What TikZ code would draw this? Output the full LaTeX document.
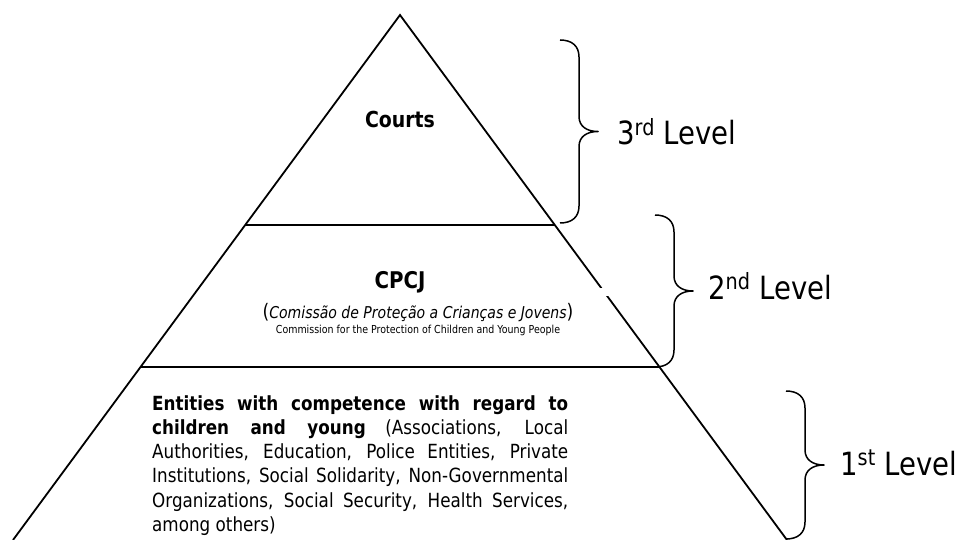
\documentclass[tikz,border=0pt]{standalone}
\usepackage{fontspec}
\setmainfont{DejaVu Sans}[FakeStretch=0.86]
\usetikzlibrary{calc}
\tolerance=10000

% curly brace: x of the ends, top y, bottom y
\newcommand{\lvlbrace}[3]{%
  \pgfmathsetmacro{\ym}{(#2+#3)/2}
  \draw[brc] (#1,#2) .. controls (#1+12,#2) and (#1+19,#2+6) .. (#1+19,#2+17)
    -- (#1+19,\ym-15) .. controls (#1+19,\ym-5) and (#1+27,\ym) .. (#1+38,\ym)
    .. controls (#1+27,\ym) and (#1+19,\ym+5) .. (#1+19,\ym+15)
    -- (#1+19,#3-17) .. controls (#1+19,#3-6) and (#1+12,#3) .. (#1,#3);}

\begin{document}
\begin{tikzpicture}[x=1pt, y=-1pt,
    edge/.style={line width=1.8pt},
    brc/.style={line width=1.5pt, line join=round},
    lvl/.style={anchor=base west, inner sep=0pt, font=\fontsize{32}{38}\selectfont}]
  \useasboundingbox (0,0) rectangle (961,540);

  % Pyramid
  \coordinate (T) at (400,15);
  \coordinate (L) at (13,540);
  \coordinate (R) at (787,540);
  \coordinate (A1) at ($(T)!0.4!(L)$);
  \coordinate (A2) at ($(T)!0.4!(R)$);
  \coordinate (B1) at ($(T)!0.6705!(L)$);
  \coordinate (B2) at ($(T)!0.6705!(R)$);
  \draw[edge] (L) -- (T) -- (R);
  \draw[edge] (A1) -- (A2);
  \draw[edge] (B1) -- (B2);
  \fill[white] (596,288) rectangle (610,296);

  % Tiers
  \node[anchor=base, inner sep=0pt, font=\fontsize{22}{26}\selectfont\bfseries] (C) at (400,128) {Courts};
  \node[anchor=base, inner sep=0pt, font=\fontsize{23}{27}\selectfont\bfseries] (P) at (400,288) {CPCJ};
  \node[anchor=base, inner sep=0pt, font=\fontsize{16.3}{19}\selectfont] (PT) at (418,318)
    {{\fontsize{20}{24}\selectfont(}\textit{Comissão de Proteção a Crianças e Jovens}{\fontsize{20}{24}\selectfont)}};
  \node[anchor=base, inner sep=0pt, font=\fontsize{11}{13}\selectfont] (EN) at (418,333)
    {Commission for the Protection of Children and Young People};
  \node[anchor=north west, inner sep=0pt, text width=416pt, align=justify,
        font=\fontsize{19.5}{24.3}\selectfont] (E) at (152,395)
    {\textbf{Entities with competence with regard to}\linebreak
     \textbf{children and young} (Associations, Local\linebreak
     Authorities, Education, Police Entities, Private\linebreak
     Institutions, Social Solidarity, Non-Governmental\linebreak
     Organizations, Social Security, Health Services,\linebreak
     among others)};

  % Braces and levels
  \lvlbrace{560}{40}{223}
  \lvlbrace{655}{215}{367}
  \lvlbrace{786}{391}{539}
  \node[lvl] (L3) at (617,145) {3\textsuperscript{rd} Level};
  \node[lvl] (L2) at (708,299) {2\textsuperscript{nd} Level};
  \node[lvl] (L1) at (840,475) {1\textsuperscript{st} Level};
\end{tikzpicture}
\end{document}
